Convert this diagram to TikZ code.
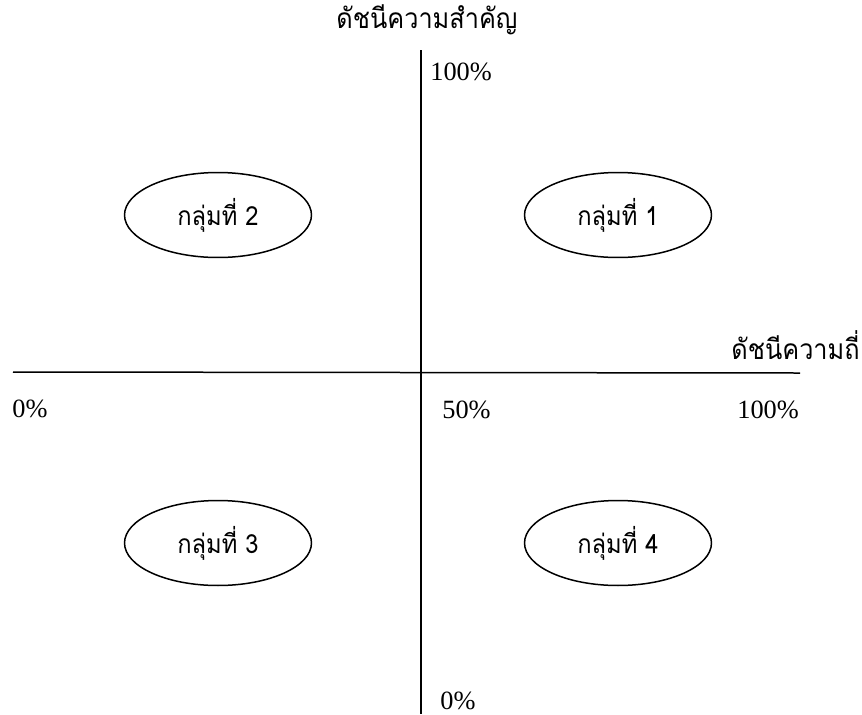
\documentclass[tikz,border=0pt]{standalone}
\usepackage{fontspec}
\setmainfont{Liberation Serif}
\newfontfamily\thaifont[Script=Thai,FakeStretch=0.9]{Loma}
\usetikzlibrary{positioning,shapes.geometric}

\tikzset{
  axisline/.style={line width=0.03cm},
  groupoval/.style={ellipse,draw,line width=0.03cm,minimum width=3.74cm,minimum height=1.7cm,font=\thaifont\fontsize{15}{17}\selectfont},
  pctlabel/.style={font=\fontsize{15}{17}\selectfont,inner sep=0pt},
  axislabel/.style={font=\thaifont\fontsize{16}{18}\selectfont,inner sep=0pt}
}

\begin{document}
\begin{tikzpicture}[x=0.02cm,y=-0.02cm]
  \useasboundingbox (0,0) rectangle (862,714);

  % Drawing the two axes
  \coordinate (vtop) at (421,50);
  \coordinate (vbot) at (421,714);
  \coordinate (hleft) at (13,372);
  \coordinate (hright) at (800,373);
  \draw [axisline] (vtop) -- (vbot);%
  \draw [axisline] (hleft) -- (hright);%

  % Axis titles
  \node [axislabel] (ytitle) at (427,20) {ดัชนีความสำคัญ};%
  \node [axislabel,anchor=east] (xtitle) at (860,345) {ดัชนีความถี่};%

  % Percent marks
  \node [pctlabel,anchor=west] (ytop) at (430,72) {100\%};%
  \node [pctlabel,anchor=west] (ybot) at (440,701) {0\%};%
  \node [pctlabel,anchor=west] (xzero) at (12,409) {0\%};%
  \node [pctlabel,anchor=west] (xmid) at (442,410) {50\%};%
  \node [pctlabel,anchor=west] (xfull) at (737,410) {100\%};%

  % The four groups
  \node [groupoval] (grp1) at (618,215) {กลุ่มที่ 1};%
  \node [groupoval] (grp2) at (218,215) {กลุ่มที่ 2};%
  \node [groupoval] (grp3) at (218,543) {กลุ่มที่ 3};%
  \node [groupoval] (grp4) at (618,543) {กลุ่มที่ 4};%
\end{tikzpicture}
\end{document}
